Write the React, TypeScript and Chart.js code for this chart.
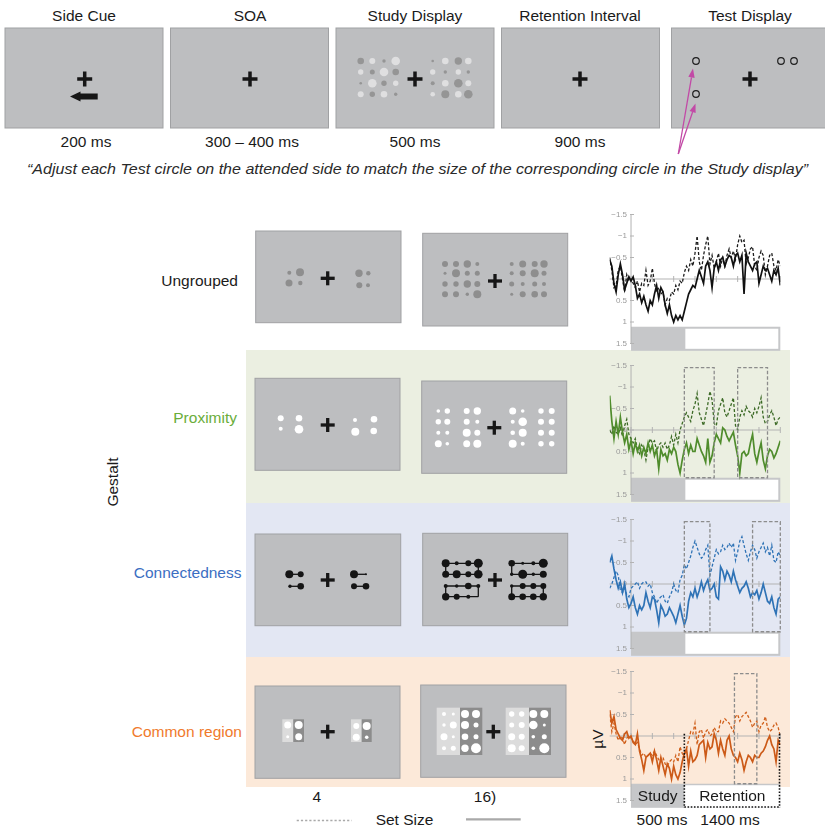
import React, { useEffect, useRef } from "react";
import { Chart, registerables } from "chart.js";

Chart.register(...registerables);

// ERP difference waves (µV, negative plotted up), one sample every 20 ms from -200 to 1400 ms
const TIME_MS = [
  -200, -180, -160, -140, -120, -100, -80, -60, -40, -20,
  0, 20, 40, 60, 80, 100, 120, 140, 160, 180,
  200, 220, 240, 260, 280, 300, 320, 340, 360, 380,
  400, 420, 440, 460, 480, 500, 520, 540, 560, 580,
  600, 620, 640, 660, 680, 700, 720, 740, 760, 780,
  800, 820, 840, 860, 880, 900, 920, 940, 960, 980,
  1000, 1020, 1040, 1060, 1080, 1100, 1120, 1140, 1160, 1180,
  1200, 1220, 1240, 1260, 1280, 1300, 1320, 1340, 1360, 1380,
  1400,
];

const UNGROUPED_SET4 = [
  -0.5, -0.2, 0.2, 0.15, -0.2, -0.3, 0.0, 0.3, -0.1, 0.05,
  0.0, 0.1, 0.2, 0.05, 0.3, 0.1, 0.15, -0.2, 0.15, 0.05,
  -0.25, 0.1, 0.3, 0.2, 0.35, 0.3, 0.6, 0.45, 0.5, 0.3,
  0.35, 0.15, 0.25, 0.05, 0.1, -0.15, -0.3, -0.2, -0.45, -0.3,
  -0.6, -1.0, -0.4, -0.2, -0.55, -0.8, -1.0, -0.35, -0.55, -0.25,
  -0.4, -0.6, -0.3, -0.5, -0.3, -0.55, -0.7, -0.5, -0.65, -0.45,
  -0.8, -1.0, -0.85, -0.9, -0.35, -0.5, -0.7, -0.75, -0.3, -0.2,
  -0.5, -0.65, -0.55, -0.1, -0.3, -0.55, -0.6, -0.3, -0.2, -0.45,
  -0.3,
];
const UNGROUPED_SET16 = [
  -0.45, -0.3, 0.1, 0.3, -0.1, -0.35, -0.1, 0.25, 0.1, -0.05,
  0.05, -0.05, 0.15, 0.45, 0.35, 0.55, 0.4, 0.6, 0.75, 0.5,
  0.6, 0.35, 0.15, 0.45, 0.2, 0.3, 0.6, 0.8, 0.6, 0.85,
  1.0, 0.85, 0.95, 0.85, 0.95, 0.75, 0.55, 0.35, 0.25, 0.15,
  0.2, 0.0, -0.2, -0.05, 0.1, -0.3, -0.4, -0.2, 0.2, -0.25,
  -0.4, -0.2, -0.45, -0.5, -0.3, -0.45, -0.55, -0.5, -0.3, -0.55,
  -0.6, -0.4, -0.55, 0.35, -0.6, -0.4, -0.3, -0.2, -0.35, -0.4,
  0.1, -0.1, -0.3, -0.2, -0.25, -0.1, 0.05, -0.2, -0.1, -0.25,
  0.15,
];
const PROXIMITY_SET4 = [
  0.0, 0.1, -0.1, 0.05, 0.1, -0.05, 0.15, -0.1, -0.25, 0.1,
  0.2, 0.3, 0.2, 0.45, 0.55, 0.35, 0.45, 0.7, 0.4, 0.2,
  0.3, 0.25, 0.5, 0.35, 0.3, 0.4, 0.3, 0.45, 0.35, 0.15,
  0.35, 0.1, 0.3, 0.0, -0.15, -0.3, -0.4, -0.3, -0.2, -0.45,
  -0.6, -0.85, -0.4, -0.25, -0.1, -0.35, -0.6, -0.9, -0.7, -0.15,
  -0.1, -0.45, -0.6, -0.75, -0.4, -0.3, -0.45, -0.6, -0.75, -0.1,
  0.0, -0.3, -0.45, -0.35, -0.55, -0.45, -0.4, -0.3, -0.5, -0.4,
  -0.55, -0.75, -0.3, -0.15, -0.2, -0.35, -0.45, -0.3, -0.1, -0.25,
  -0.3,
];
const PROXIMITY_SET16 = [
  -0.8, -0.2, 0.2, -0.2, 0.1, -0.3, 0.05, 0.3, 0.1, 0.45,
  0.25, 0.55, 0.3, 0.5, 0.35, 0.6, 0.4, 0.55, 0.3, 0.5,
  0.35, 0.6, 0.45, 0.9, 0.45, 0.6, 0.55, 0.7, 0.45, 0.55,
  0.4, 0.5, 0.8, 1.0, 0.7, 0.45, 0.3, 0.55, 0.35, 0.5,
  0.5, 0.2, 0.35, 0.5, 0.6, 0.75, 0.2, 0.75, 0.6, 0.3,
  0.1, 0.2, 0.3, -0.05, 0.0, 0.15, 0.25, 0.15, 0.05, 0.35,
  0.6, 1.0, 0.55, 0.5, 0.6, 0.55, 0.3, 0.1, 0.55, 0.75,
  0.5, 0.3, 0.7, 0.9, 0.6, 0.45, 0.5, 0.65, 0.55, 0.4,
  0.25,
];
const CONNECTED_SET4 = [
  0.1, 0.0, -0.15, -0.3, -0.2, 0.15, 0.2, 0.1, 0.25, 0.3,
  0.1, 0.05, 0.0, -0.05, 0.1, 0.0, -0.05, -0.05, 0.05, 0.0,
  0.2, 0.3, 0.45, 0.35, 0.3, 0.25, 0.4, 0.45, 0.3, 0.2,
  0.0, 0.15, 0.2, -0.1, -0.2, -0.45, -0.35, -0.5, -0.65, -0.85,
  -1.0, -0.85, -0.7, -0.6, -0.65, -0.8, -0.9, -0.2, -0.4, -0.6,
  -0.8, -0.7, -0.75, -0.9, -0.8, -0.85, -0.95, -0.85, -0.95, -0.55,
  -0.75, -1.0, -1.1, -0.9, -0.7, -0.55, -0.75, -0.9, -0.8, -0.6,
  -0.75, -0.85, -0.95, -0.75, -0.85, -0.65, -0.9, -0.55, -0.5, -0.75,
  -0.65,
];
const CONNECTED_SET16 = [
  -0.5, -0.65, -0.35, -0.1, 0.1, -0.05, 0.2, 0.0, 0.35, 0.55,
  0.45, 0.3, 0.55, 0.7, 0.5, 0.6, 0.5, 0.2, 0.4, 0.55,
  0.3, 0.35, 0.6, 0.9, 0.5, 0.6, 0.75, 0.7, 0.55, 0.65,
  0.75, 0.9, 0.7, 0.5, 0.75, 0.95, 0.8, 0.4, 0.2, 0.3,
  0.1, 0.3, 0.15, -0.05, 0.15, 0.0, -0.1, 0.15, 0.1, 0.0,
  0.3, 0.35, -0.4, -0.3, -0.1, -0.3, -0.2, -0.05, -0.3, -0.1,
  0.05, 0.2, 0.1, 0.05, -0.05, 0.1, 0.3, 0.2, 0.25, 0.15,
  0.35, 0.2, 0.0, 0.2, 0.4, 0.45, 0.3, 0.55, 0.7, 0.35,
  0.3,
];
const COMMON_SET4 = [
  -0.5, -0.1, -0.3, -0.05, 0.1, 0.0, 0.05, 0.2, 0.05, 0.0,
  0.05, 0.1, 0.2, 0.15, 0.3, 0.45, 0.4, 0.5, 0.45, 0.4,
  0.45, 0.35, 0.45, 0.55, 0.6, 0.5, 0.65, 0.7, 0.6, 0.55,
  0.6, 0.45, 0.6, 0.25, 0.4, 0.5, 0.3, 0.1, -0.1, -0.05,
  -0.3, 0.2, -0.1, -0.15, 0.05, -0.1, -0.15, 0.0, -0.05, -0.2,
  -0.1, -0.1, -0.35, -0.3, -0.4, -0.35, -0.3, -0.2, -0.1, -0.45,
  -0.5, -0.35, -0.45, -0.5, -0.55, -0.45, -0.35, -0.2, -0.3, -0.35,
  -0.1, -0.25, -0.3, -0.45, -0.2, -0.1, -0.15, -0.25, -0.3, -0.2,
  0.0,
];
const COMMON_SET16 = [
  -0.6, -0.3, -0.45, -0.15, -0.05, 0.05, 0.1, -0.05, -0.1, 0.05,
  0.0, 0.15, 0.2, -0.05, 0.35, 0.55, 0.8, 0.5, 0.45, 0.4,
  0.6, 0.35, 0.55, 0.8, 0.5, 0.7, 0.9, 0.65, 0.75, 1.0,
  0.7, 0.9, 1.0, 0.85, 0.6, 0.4, 0.3, 0.7, 0.35, 0.6,
  0.55, 0.45, 0.2, 0.15, 0.1, 0.5, 0.15, 0.3, 0.25, -0.05,
  0.1, 0.4, 0.1, 0.3, 0.45, 0.1, 0.0, 0.3, 0.45, 0.5,
  0.6, 0.4, 0.55, 0.8, 0.6, 0.45, 0.5, 0.6, 0.45, 0.5,
  0.5, 0.4, 0.35, 0.25, 0.1, 0.0, 0.2, 0.3, 0.6, 0.1,
  0.2,
];

const Y_TICKS = [-1.5, -1, -0.5, 0, 0.5, 1, 1.5];
const Y_TICK_LABELS = ["\u22121.5", "\u22121", "\u22120.5", "0", "0.5", "1", "1.5"];
const X_TICKS_MS = [0, 200, 400, 600, 800, 1000, 1200, 1400];
const STUDY_MS = [0, 500];
const RETENTION_MS = [500, 1400];
const PROXIMITY_WINDOWS = [[500, 780], [1000, 1280]];
const CONNECTED_WINDOWS = [[500, 740], [1140, 1400]];
const COMMON_WINDOWS = [[970, 1180]];

const PHASES = ["Side Cue", "SOA", "Study Display", "Retention Interval", "Test Display"];
const PHASE_DURATIONS = ["200 ms", "300 \u2013 400 ms", "500 ms", "900 ms"];
const INSTRUCTION =
  "\u201CAdjust each Test circle on the attended side to match the size of the corresponding circle in the Study display\u201D";
const CONDITIONS = ["Ungrouped", "Proximity", "Connectedness", "Common region"];
const SET_SIZES = ["4", "16)"];
const EPOCH_LABELS = ["Study", "Retention"];
const EPOCH_DURATIONS = ["500 ms", "1400 ms"];

// ---- layout ----
const FONT = "'Liberation Sans', Arial, Helvetica, sans-serif";
const PLOT_LEFT = 590;
const PLOT_W = 200;
const PLOT_H = 150;
const PX_PER_UV = 43;
const Y_MIN = -1.6;
const Y_MAX = 1.7;
const BAR_TOP = 1.11;
const BAR_BOTTOM = 1.67;
const WINDOW_TOP = -1.45;

type RowCfg = {
  zeroY: number;
  set4: number[];
  set16: number[];
  c4: string;
  c16: string;
  windows: number[][];
  epochLabels?: boolean;
};

function ErpPlot({ cfg }: { cfg: RowCfg }) {
  const ref = useRef<HTMLCanvasElement | null>(null);
  useEffect(() => {
    const canvas = ref.current;
    if (!canvas) return;
    const decor = {
      id: "erpDecor",
      beforeDatasetsDraw(chart: any) {
        const ctx = chart.ctx;
        const X = (v: number) => chart.scales.x.getPixelForValue(v);
        const Y = (v: number) => chart.scales.y.getPixelForValue(v);
        const x0 = X(STUDY_MS[0]);
        const xs = X(RETENTION_MS[0]);
        const xr = X(RETENTION_MS[1]);
        const yt = Y(BAR_TOP);
        const yb = Y(BAR_BOTTOM);
        ctx.save();
        // study / retention epoch bar
        ctx.fillStyle = "#c6c7c9";
        ctx.fillRect(x0, yt, xr - x0, yb - yt);
        ctx.fillStyle = "#ffffff";
        if (cfg.epochLabels) ctx.fillRect(xs, yt + 1.5, xr - xs, yb - yt - 1.5);
        else ctx.fillRect(xs + 1, yt + 2, xr - xs - 3, yb - yt - 4);
        // y axis with ticks and labels
        ctx.strokeStyle = "#b3b3b3";
        ctx.lineWidth = 1;
        ctx.beginPath();
        ctx.moveTo(x0, Y(-1.5));
        ctx.lineTo(x0, Y(1.5));
        ctx.stroke();
        ctx.font = `8px ${FONT}`;
        ctx.fillStyle = "#9a9a9a";
        ctx.textAlign = "right";
        ctx.textBaseline = "middle";
        Y_TICKS.forEach((v, i) => {
          const y = Y(v);
          ctx.beginPath();
          ctx.moveTo(x0 - 1, y);
          ctx.lineTo(x0 + 3, y);
          ctx.stroke();
          ctx.fillText(Y_TICK_LABELS[i], x0 - 4, y);
        });
        // zero line with time ticks
        const yz = Y(0);
        ctx.beginPath();
        ctx.moveTo(X(TIME_MS[0]), yz);
        ctx.lineTo(xr, yz);
        ctx.stroke();
        X_TICKS_MS.forEach((t) => {
          ctx.beginPath();
          ctx.moveTo(X(t), yz - 3);
          ctx.lineTo(X(t), yz + 3);
          ctx.stroke();
        });
        ctx.restore();
      },
      afterDatasetsDraw(chart: any) {
        const ctx = chart.ctx;
        const X = (v: number) => chart.scales.x.getPixelForValue(v);
        const Y = (v: number) => chart.scales.y.getPixelForValue(v);
        ctx.save();
        ctx.strokeStyle = "#8c8c8c";
        ctx.lineWidth = 1.3;
        ctx.setLineDash([3.5, 2]);
        cfg.windows.forEach(([a, b]) => {
          ctx.strokeRect(X(a), Y(WINDOW_TOP), X(b) - X(a), Y(BAR_TOP) - Y(WINDOW_TOP));
        });
        if (cfg.epochLabels) {
          const xs = X(RETENTION_MS[0]);
          const xr = X(RETENTION_MS[1]);
          const yb = Y(BAR_BOTTOM);
          ctx.strokeStyle = "#111111";
          ctx.lineWidth = 1.6;
          ctx.setLineDash([1.6, 1.6]);
          ctx.beginPath();
          ctx.moveTo(xs, Y(-0.05));
          ctx.lineTo(xs, yb);
          ctx.moveTo(xr - 0.8, Y(-0.05));
          ctx.lineTo(xr - 0.8, yb);
          ctx.moveTo(xs, yb - 0.8);
          ctx.lineTo(xr, yb - 0.8);
          ctx.stroke();
          ctx.setLineDash([]);
          ctx.font = `15.5px ${FONT}`;
          ctx.fillStyle = "#1a1a1a";
          ctx.textAlign = "center";
          ctx.textBaseline = "middle";
          const ym = Y((BAR_TOP + BAR_BOTTOM) / 2) + 1;
          ctx.fillText(EPOCH_LABELS[0], X((STUDY_MS[0] + STUDY_MS[1]) / 2), ym);
          ctx.fillText(EPOCH_LABELS[1], X((RETENTION_MS[0] + RETENTION_MS[1]) / 2), ym);
        }
        ctx.restore();
      },
    };
    const chart = new Chart(canvas, {
      type: "line",
      data: {
        datasets: [
          {
            data: TIME_MS.map((t, i) => ({ x: t, y: cfg.set16[i] })),
            borderColor: cfg.c16,
            borderWidth: 1.7,
            pointRadius: 0,
            tension: 0,
          },
          {
            data: TIME_MS.map((t, i) => ({ x: t, y: cfg.set4[i] })),
            borderColor: cfg.c4,
            borderWidth: 1.3,
            borderDash: [3, 2],
            pointRadius: 0,
            tension: 0,
          },
        ],
      },
      options: {
        animation: false,
        responsive: false,
        events: [],
        layout: {
          padding: {
            left: 19.7,
            right: 9.7,
            top: PLOT_H / 2 + Y_MIN * PX_PER_UV,
            bottom: PLOT_H / 2 - Y_MAX * PX_PER_UV,
          },
        },
        scales: {
          x: { type: "linear", min: TIME_MS[0], max: TIME_MS[TIME_MS.length - 1], display: false },
          y: { type: "linear", min: Y_MIN, max: Y_MAX, reverse: true, display: false },
        },
        plugins: { legend: { display: false }, tooltip: { enabled: false } },
      },
      plugins: [decor],
    } as any);
    return () => chart.destroy();
  }, []);
  return (
    <canvas
      ref={ref}
      width={PLOT_W}
      height={PLOT_H}
      style={{ position: "absolute", left: PLOT_LEFT, top: cfg.zeroY - PLOT_H / 2, width: PLOT_W, height: PLOT_H }}
    />
  );
}

const ROWS: RowCfg[] = [
  { zeroY: 279.3, set4: UNGROUPED_SET4, set16: UNGROUPED_SET16, c4: "#1c1c1c", c16: "#111111", windows: [] },
  { zeroY: 430.3, set4: PROXIMITY_SET4, set16: PROXIMITY_SET16, c4: "#3c6a26", c16: "#4f8c2c", windows: PROXIMITY_WINDOWS },
  { zeroY: 584.3, set4: CONNECTED_SET4, set16: CONNECTED_SET16, c4: "#2f73b6", c16: "#2f73b6", windows: CONNECTED_WINDOWS },
  { zeroY: 736, set4: COMMON_SET4, set16: COMMON_SET16, c4: "#d0601c", c16: "#cc5a18", windows: COMMON_WINDOWS, epochLabels: true },
];

// ---- stimulus illustrations ----
const SCREEN_FILL = "#bdbec0";
const SCREEN_EDGE = "#a0a1a3";

function Screen({ x, y, w, h }: { x: number; y: number; w: number; h: number }) {
  return <rect x={x} y={y} width={w} height={h} fill={SCREEN_FILL} stroke={SCREEN_EDGE} strokeWidth={1} />;
}

function Cross({ x, y, s = 14, t = 3.3 }: { x: number; y: number; s?: number; t?: number }) {
  return (
    <g fill="#161616">
      <rect x={x - s / 2} y={y - t / 2} width={s} height={t} />
      <rect x={x - t / 2} y={y - s / 2} width={t} height={s} />
    </g>
  );
}

function Grid({ cols, rows, radii, fill }: { cols: number[]; rows: number[]; radii: number[][]; fill: string }) {
  const out: any[] = [];
  rows.forEach((y, r) =>
    cols.forEach((x, c) => {
      const rad = radii[r][c];
      if (rad > 0) out.push(<circle key={`${r}-${c}`} cx={x} cy={y} r={rad} fill={fill} />);
    })
  );
  return <g>{out}</g>;
}

function Links({ cols, rows, edges }: { cols: number[]; rows: number[]; edges: number[][] }) {
  return (
    <g stroke="#151515" strokeWidth={1.3}>
      {edges.map(([r1, c1, r2, c2], i) => (
        <line key={i} x1={cols[c1]} y1={rows[r1]} x2={cols[c2]} y2={rows[r2]} />
      ))}
    </g>
  );
}

function Arrow({ x1, y1, x2, y2, color }: { x1: number; y1: number; x2: number; y2: number; color: string }) {
  const dx = x2 - x1;
  const dy = y2 - y1;
  const len = Math.hypot(dx, dy);
  const ux = dx / len;
  const uy = dy / len;
  const hl = 9;
  const hw = 3.2;
  const bx = x2 - ux * hl;
  const by = y2 - uy * hl;
  const pts = `${x2},${y2} ${bx - uy * hw},${by + ux * hw} ${bx + uy * hw},${by - ux * hw}`;
  return (
    <g>
      <line x1={x1} y1={y1} x2={bx} y2={by} stroke={color} strokeWidth={1.3} />
      <polygon points={pts} fill={color} />
    </g>
  );
}

const LIGHT = "#dfdfe0";
const DARK = "#959595";
const MID = "#8e8e8e";

function StudyDisplayDots() {
  const rows = [61, 72, 83.3, 94.3];
  const left = [360.7, 372.3, 384, 395.7];
  const right = [432.7, 445.3, 458.3, 468.3];
  const lc = [
    [[DARK, 3.3], [LIGHT, 3], [DARK, 1.7], [LIGHT, 4.3]],
    [[LIGHT, 2.7], [DARK, 2.5], [LIGHT, 4.3], [DARK, 3.3]],
    [[DARK, 1.3], [LIGHT, 4.3], [DARK, 2.7], [LIGHT, 2.7]],
    [[LIGHT, 3], [DARK, 2.7], [LIGHT, 3.3], [DARK, 1.7]],
  ];
  const rc = [
    [[DARK, 1.3], [LIGHT, 3.3], [DARK, 3.7], [LIGHT, 3.3]],
    [[LIGHT, 2.7], [DARK, 1.7], [LIGHT, 2.7], [DARK, 1.7]],
    [[DARK, 2], [LIGHT, 3.3], [DARK, 4.3], [LIGHT, 3]],
    [[LIGHT, 2.3], [DARK, 4], [LIGHT, 3.3], [DARK, 4.3]],
  ];
  const out: any[] = [];
  rows.forEach((y, r) => {
    left.forEach((x, c) => out.push(<circle key={`l${r}${c}`} cx={x} cy={y} r={lc[r][c][1] as number} fill={lc[r][c][0] as string} />));
    right.forEach((x, c) => out.push(<circle key={`r${r}${c}`} cx={x} cy={y} r={rc[r][c][1] as number} fill={rc[r][c][0] as string} />));
  });
  return <g>{out}</g>;
}

function Figure() {
  const topScreens = [
    [5, 28, 158],
    [170.5, 28, 158],
    [336, 28, 158],
    [501.5, 28, 158],
    [671.5, 28, 160],
  ];
  const topCenters = [84, 250, 415, 580, 750];
  const bandX = 246;
  const bandW = 544;
  const labelText = { fontFamily: FONT, fontSize: 15.5 } as any;

  // connectedness grids
  const cRows = [563.3, 574.3, 586, 596.7];
  const cLeftCols = [445.7, 456.7, 468.3, 478.3];
  const cRightCols = [511.7, 522.7, 533.3, 543.3];
  const horiz = [[0, 0, 0, 3], [1, 0, 1, 3], [2, 0, 2, 3], [3, 0, 3, 3]];

  // common-region grids
  const crRows = [714, 725, 736.7, 748.3];

  return (
    <svg width={825} height={828} style={{ position: "absolute", left: 0, top: 0 }}>
      <rect x={0} y={0} width={825} height={828} fill="#ffffff" />

      {/* trial sequence */}
      {PHASES.map((p, i) => (
        <text key={p} x={topCenters[i]} y={20.7} textAnchor="middle" {...labelText} fill="#1a1a1a">
          {p}
        </text>
      ))}
      {topScreens.map(([x, y, w], i) => (
        <Screen key={i} x={x} y={y} w={w} h={100} />
      ))}
      {topCenters.map((cx, i) => (
        <Cross key={i} x={i === 0 ? 84.7 : cx} y={79} s={15} t={3.5} />
      ))}
      <polygon
        points="70,96.5 80.5,91.5 80.5,93.6 97.7,93.6 97.7,99.4 80.5,99.4 80.5,101.5"
        fill="#161616"
      />
      <StudyDisplayDots />
      <g fill="none" stroke="#1e1e1e" strokeWidth={1.2}>
        <circle cx={696} cy={61} r={3.3} />
        <circle cx={696} cy={94} r={3.3} />
        <circle cx={781} cy={61} r={3.3} />
        <circle cx={794} cy={61} r={3.3} />
      </g>
      {PHASE_DURATIONS.map((d, i) => (
        <text key={d} x={topCenters[i] + (i === 0 ? 2 : i === 1 ? 2 : 0)} y={147} textAnchor="middle" {...labelText} fill="#1a1a1a">
          {d}
        </text>
      ))}
      <Arrow x1={678.3} y1={154} x2={693} y2={68.5} color="#c24aa6" />
      <Arrow x1={678.3} y1={154} x2={695.5} y2={103.5} color="#c24aa6" />
      <text x={27} y={174} fontFamily={FONT} fontSize={14.5} fontStyle="italic" fill="#2a2a2a" textLength={781} lengthAdjust="spacingAndGlyphs">
        {INSTRUCTION}
      </text>

      {/* condition bands */}
      <rect x={bandX} y={350} width={bandW} height={153} fill="#ebefe1" />
      <rect x={bandX} y={503} width={bandW} height={154} fill="#e3e7f3" />
      <rect x={bandX} y={657} width={bandW} height={130} fill="#fce9d9" />

      <text x={238} y={285.5} textAnchor="end" {...labelText} fill="#1a1a1a">{CONDITIONS[0]}</text>
      <text x={237} y={422.5} textAnchor="end" {...labelText} fill="#6aad3a">{CONDITIONS[1]}</text>
      <text x={241.5} y={577.5} textAnchor="end" {...labelText} fill="#3b6ec2">{CONDITIONS[2]}</text>
      <text x={242} y={736.5} textAnchor="end" {...labelText} fill="#f07a2c">{CONDITIONS[3]}</text>
      <text x={112} y={482} textAnchor="middle" dominantBaseline="central" transform="rotate(-90 112 482)" {...labelText} fill="#1a1a1a">
        Gestalt
      </text>

      {/* ungrouped */}
      <Screen x={255.7} y={231} w={145.3} h={91.7} />
      <Screen x={422.7} y={233.3} w={145} h={92.7} />
      <g fill={MID}>
        <circle cx={289.3} cy={272.7} r={2} />
        <circle cx={300} cy={272.3} r={4} />
        <circle cx={289} cy={283} r={3.5} />
        <circle cx={300.3} cy={283} r={2.2} />
        <circle cx={359} cy={273.3} r={3.7} />
        <circle cx={368.3} cy={273.3} r={2.2} />
        <circle cx={359.3} cy={285.3} r={3} />
        <circle cx={368} cy={285.3} r={2} />
      </g>
      <Cross x={327.7} y={278.3} />
      <Grid
        cols={[445, 456, 467.3, 477.3]}
        rows={[264, 273.3, 284, 294.3]}
        radii={[[3, 3, 3.7, 2], [1.5, 4, 2.5, 2.5], [2.7, 2.7, 3.7, 3], [3, 3, 1.7, 4]]}
        fill={MID}
      />
      <Grid
        cols={[511.7, 522.7, 534.7, 544]}
        rows={[264, 273.3, 284, 294.3]}
        radii={[[2, 3.5, 3, 3.7], [2, 3, 4, 2.5], [2.5, 2, 2.5, 2], [1.5, 3, 3.3, 3]]}
        fill={MID}
      />
      <Cross x={495} y={281} />

      {/* proximity */}
      <Screen x={255} y={378.3} w={145} h={92} />
      <Screen x={421.7} y={381} w={145} h={92.3} />
      <g fill="#ffffff">
        <circle cx={280.7} cy={418.3} r={3} />
        <circle cx={299} cy={418.3} r={3.3} />
        <circle cx={280.7} cy={428.7} r={2} />
        <circle cx={299} cy={429.3} r={4.3} />
        <circle cx={355} cy={420} r={2} />
        <circle cx={374} cy={419.3} r={3.3} />
        <circle cx={355.3} cy={431.7} r={4} />
        <circle cx={373.7} cy={431} r={3.3} />
      </g>
      <Cross x={327.7} y={425} />
      <Grid
        cols={[438.3, 447.3, 466.7, 477.3]}
        rows={[411, 421.7, 432.7, 443.7]}
        radii={[[1.8, 2.7, 3, 3.7], [2.7, 3, 3, 2], [2, 2, 4, 3], [3.5, 1.8, 3.5, 4]]}
        fill="#ffffff"
      />
      <Grid
        cols={[512.7, 522.7, 541, 551.7]}
        rows={[411, 421.7, 432.7, 443.7]}
        radii={[[3.5, 1.8, 2.7, 3], [2, 4.3, 3, 3], [2.3, 4, 3, 3], [4, 2, 2.7, 2.7]]}
        fill="#ffffff"
      />
      <Cross x={494.3} y={427.7} />

      {/* connectedness */}
      <Screen x={255} y={534} w={145.7} h={91.7} />
      <Screen x={422.7} y={533.3} w={145} h={92.4} />
      <g stroke="#151515" strokeWidth={1.3}>
        <line x1={289.3} y1={574.3} x2={300.7} y2={574.3} />
        <line x1={290} y1={586.3} x2={300.7} y2={586.3} />
        <line x1={354} y1={574.3} x2={366} y2={574.3} />
        <line x1={354} y1={586.3} x2={366} y2={586.3} />
      </g>
      <g fill="#151515">
        <circle cx={289.3} cy={574.3} r={4} />
        <circle cx={300.7} cy={574.3} r={3} />
        <circle cx={290} cy={586.3} r={1.7} />
        <circle cx={300.7} cy={586.3} r={3.3} />
        <circle cx={354} cy={574.3} r={4} />
        <circle cx={366} cy={574.3} r={1} />
        <circle cx={354} cy={586.3} r={3} />
        <circle cx={366} cy={586.3} r={3.3} />
      </g>
      <Cross x={327.7} y={580} />
      <Links cols={cLeftCols} rows={cRows} edges={[...horiz, [0, 0, 1, 0], [0, 3, 1, 3], [2, 0, 3, 0], [2, 3, 3, 3]]} />
      <Links cols={cRightCols} rows={cRows} edges={[...horiz, [0, 0, 1, 0], [2, 0, 3, 0], [2, 3, 3, 3]]} />
      <Grid
        cols={cLeftCols}
        rows={cRows}
        radii={[[4, 2, 3, 4.5], [3.5, 4, 3, 4.3], [2, 1.7, 3.3, 2], [3.7, 3, 2, 0]]}
        fill="#151515"
      />
      <Grid
        cols={cRightCols}
        rows={cRows}
        radii={[[3.3, 1.5, 2, 4.5], [1.7, 4.5, 1.7, 3.5], [1.7, 3, 3, 3], [3.5, 3.3, 3.3, 3.7]]}
        fill="#151515"
      />
      <Cross x={495} y={580} />

      {/* common region */}
      <Screen x={255} y={686} w={145} h={92.3} />
      <Screen x={420.7} y={685} w={145.3} h={92.3} />
      <rect x={282.3} y={719.3} width={11} height={22.7} fill="#dcdcdc" />
      <rect x={293.3} y={719.3} width={10.7} height={22.7} fill="#8c8c8c" />
      <rect x={351} y={719.3} width={10.7} height={22.7} fill="#dcdcdc" />
      <rect x={361.7} y={719.3} width={10} height={22.7} fill="#8c8c8c" />
      <g fill="#ffffff">
        <circle cx={287.7} cy={725} r={3.5} />
        <circle cx={298.7} cy={725} r={4} />
        <circle cx={287.7} cy={736.7} r={1.5} />
        <circle cx={298.7} cy={736.7} r={3.5} />
        <circle cx={356.3} cy={726} r={3} />
        <circle cx={366.7} cy={726} r={4} />
        <circle cx={356.3} cy={737.3} r={3.5} />
        <circle cx={366.7} cy={737.3} r={1.8} />
      </g>
      <Cross x={327.7} y={731.7} />
      <rect x={436.7} y={707.7} width={23.3} height={47.3} fill="#dcdcdc" />
      <rect x={460} y={707.7} width={22.3} height={47.3} fill="#8c8c8c" />
      <rect x={505.7} y={707.7} width={23.3} height={47.3} fill="#dcdcdc" />
      <rect x={529} y={707.7} width={22} height={47.3} fill="#8c8c8c" />
      <Grid
        cols={[444, 453.3, 465, 476]}
        rows={crRows}
        radii={[[2, 1.5, 4, 4], [1.7, 3.5, 4, 2.5], [3.5, 1.5, 3.3, 2.5], [2, 2.5, 3.7, 5]]}
        fill="#ffffff"
      />
      <Grid
        cols={[511.7, 521.7, 533.3, 544.3]}
        rows={crRows}
        radii={[[2.7, 2.7, 4, 4], [2.5, 3, 4.3, 1.5], [3.5, 3, 1.8, 2.5], [4, 3, 1.8, 5]]}
        fill="#ffffff"
      />
      <Cross x={493.3} y={731.7} />

      {/* set size legend */}
      <text x={316.7} y={802} textAnchor="middle" {...labelText} fill="#1a1a1a">{SET_SIZES[0]}</text>
      <text x={485} y={802} textAnchor="middle" {...labelText} fill="#1a1a1a">{SET_SIZES[1]}</text>
      <line x1={296.7} y1={820.5} x2={351.7} y2={820.5} stroke="#a9a9a9" strokeWidth={1.6} strokeDasharray="2.2 2" />
      <text x={404.5} y={825} textAnchor="middle" {...labelText} fill="#1a1a1a">Set Size</text>
      <line x1={466} y1={819.3} x2={520.7} y2={819.3} stroke="#a9a9a9" strokeWidth={2.2} />

      {/* epoch durations and unit */}
      <text x={662} y={825} textAnchor="middle" {...labelText} fill="#1a1a1a">{EPOCH_DURATIONS[0]}</text>
      <text x={730} y={825} textAnchor="middle" {...labelText} fill="#1a1a1a">{EPOCH_DURATIONS[1]}</text>
      <text x={597} y={739} textAnchor="middle" dominantBaseline="central" transform="rotate(-90 597 739)" {...labelText} fill="#1a1a1a">
        µV
      </text>
    </svg>
  );
}

export default function App() {
  return (
    <div style={{ position: "fixed", left: 0, top: 0, width: 825, height: 828, background: "#fff", overflow: "hidden" }}>
      <Figure />
      {ROWS.map((cfg, i) => (
        <ErpPlot key={i} cfg={cfg} />
      ))}
    </div>
  );
}
